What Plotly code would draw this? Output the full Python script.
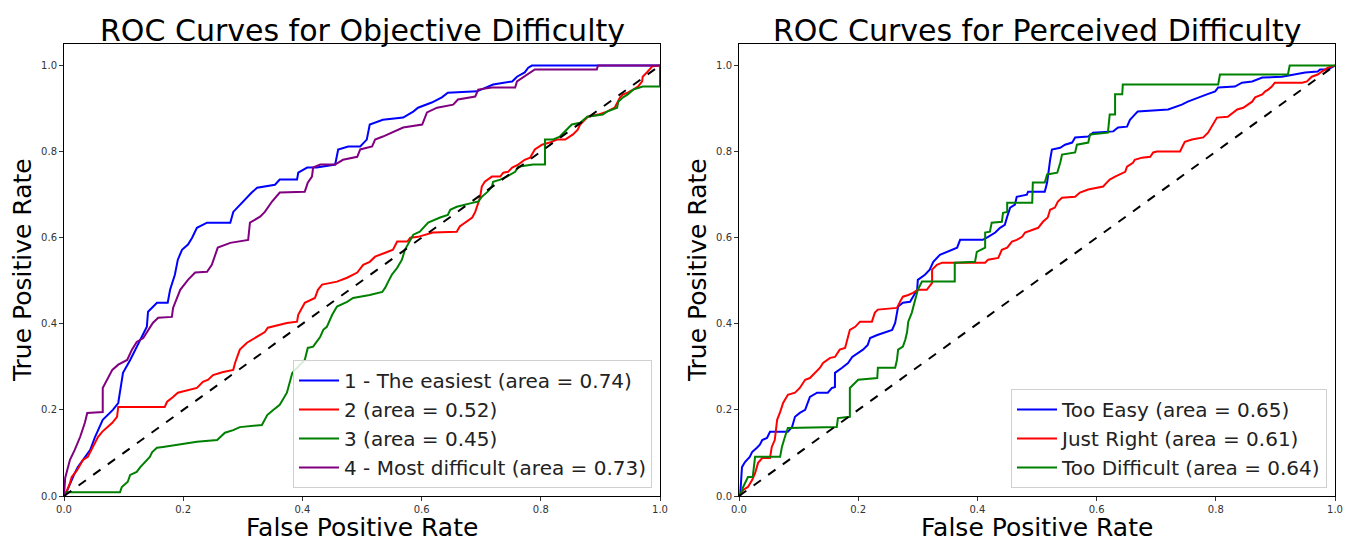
import plotly.graph_objects as go

# ---------------- data ----------------
obj_names = ["1 - The easiest (area = 0.74)", "2 (area = 0.52)", "3 (area = 0.45)", "4 - Most difficult (area = 0.73)"]
obj_colors = ["blue", "red", "green", "purple"]

obj1_fpr = [0, 0.002, 0.018, 0.023, 0.044, 0.052, 0.065, 0.082, 0.091, 0.094, 0.099, 0.111, 0.122, 0.131, 0.139, 0.141, 0.156, 0.174, 0.178, 0.186, 0.191, 0.198, 0.208, 0.215, 0.223, 0.24, 0.279, 0.284, 0.3, 0.315, 0.324, 0.354, 0.362, 0.391, 0.393, 0.408, 0.424, 0.455, 0.46, 0.477, 0.497, 0.508, 0.513, 0.535, 0.569, 0.586, 0.594, 0.617, 0.634, 0.644, 0.693, 0.72, 0.752, 0.76, 0.773, 0.779, 0.785, 1.0]
obj1_tpr = [0, 0.002, 0.053, 0.067, 0.107, 0.137, 0.177, 0.2, 0.216, 0.247, 0.286, 0.316, 0.347, 0.37, 0.393, 0.428, 0.449, 0.449, 0.479, 0.514, 0.549, 0.572, 0.584, 0.6, 0.623, 0.635, 0.635, 0.66, 0.684, 0.705, 0.716, 0.723, 0.735, 0.735, 0.751, 0.763, 0.763, 0.77, 0.805, 0.812, 0.812, 0.828, 0.863, 0.874, 0.879, 0.893, 0.902, 0.914, 0.926, 0.937, 0.94, 0.956, 0.963, 0.974, 0.984, 0.995, 1.0, 1.0]

obj2_fpr = [0, 0.002, 0.01, 0.013, 0.022, 0.032, 0.04, 0.049, 0.057, 0.064, 0.081, 0.089, 0.091, 0.169, 0.173, 0.183, 0.191, 0.223, 0.228, 0.233, 0.242, 0.25, 0.267, 0.284, 0.287, 0.295, 0.307, 0.315, 0.324, 0.337, 0.342, 0.374, 0.391, 0.393, 0.404, 0.421, 0.426, 0.433, 0.458, 0.475, 0.492, 0.502, 0.513, 0.522, 0.539, 0.552, 0.559, 0.576, 0.581, 0.594, 0.619, 0.659, 0.664, 0.676, 0.685, 0.69, 0.698, 0.701, 0.706, 0.718, 0.732, 0.737, 0.745, 0.752, 0.762, 0.773, 0.782, 0.79, 0.802, 0.815, 0.827, 0.841, 0.854, 0.862, 0.866, 0.871, 0.879, 0.896, 0.911, 0.924, 0.933, 0.938, 0.946, 0.955, 0.963, 0.97, 0.971, 0.978, 0.983, 0.987, 1.0]
obj2_tpr = [0, 0.002, 0.03, 0.044, 0.06, 0.084, 0.091, 0.114, 0.137, 0.149, 0.17, 0.184, 0.207, 0.207, 0.219, 0.23, 0.24, 0.251, 0.258, 0.265, 0.27, 0.281, 0.288, 0.293, 0.309, 0.34, 0.356, 0.363, 0.37, 0.381, 0.391, 0.402, 0.405, 0.421, 0.449, 0.46, 0.479, 0.491, 0.498, 0.507, 0.519, 0.537, 0.544, 0.556, 0.565, 0.572, 0.591, 0.591, 0.6, 0.602, 0.612, 0.614, 0.626, 0.637, 0.647, 0.66, 0.693, 0.719, 0.73, 0.742, 0.742, 0.751, 0.753, 0.763, 0.77, 0.781, 0.786, 0.805, 0.816, 0.821, 0.828, 0.828, 0.84, 0.851, 0.863, 0.87, 0.881, 0.886, 0.893, 0.902, 0.926, 0.933, 0.937, 0.944, 0.951, 0.963, 0.974, 0.984, 0.991, 0.998, 1.0]

obj3_fpr = [0, 0.002, 0.002, 0.094, 0.097, 0.107, 0.111, 0.122, 0.128, 0.139, 0.144, 0.148, 0.156, 0.166, 0.191, 0.223, 0.257, 0.27, 0.284, 0.295, 0.332, 0.341, 0.351, 0.362, 0.374, 0.379, 0.383, 0.396, 0.404, 0.409, 0.418, 0.43, 0.435, 0.441, 0.45, 0.458, 0.475, 0.485, 0.497, 0.513, 0.534, 0.539, 0.544, 0.55, 0.559, 0.567, 0.572, 0.581, 0.586, 0.597, 0.611, 0.631, 0.644, 0.648, 0.659, 0.685, 0.695, 0.701, 0.711, 0.718, 0.72, 0.732, 0.743, 0.757, 0.762, 0.787, 0.807, 0.807, 0.82, 0.832, 0.841, 0.846, 0.852, 0.866, 0.878, 0.904, 0.911, 0.928, 0.93, 0.938, 0.946, 0.955, 0.971, 1.0, 1.0]
obj3_tpr = [0, 0.002, 0.009, 0.009, 0.021, 0.033, 0.049, 0.056, 0.067, 0.084, 0.091, 0.102, 0.112, 0.114, 0.119, 0.126, 0.13, 0.147, 0.153, 0.16, 0.165, 0.188, 0.2, 0.212, 0.24, 0.265, 0.286, 0.305, 0.316, 0.344, 0.347, 0.37, 0.386, 0.393, 0.421, 0.44, 0.451, 0.46, 0.463, 0.467, 0.474, 0.484, 0.498, 0.514, 0.53, 0.549, 0.572, 0.595, 0.607, 0.614, 0.635, 0.647, 0.653, 0.665, 0.672, 0.681, 0.684, 0.695, 0.707, 0.719, 0.73, 0.735, 0.742, 0.753, 0.765, 0.77, 0.77, 0.828, 0.828, 0.835, 0.847, 0.856, 0.863, 0.867, 0.881, 0.886, 0.893, 0.902, 0.916, 0.926, 0.933, 0.944, 0.951, 0.951, 1.0]

obj4_fpr = [0, 0.002, 0.01, 0.018, 0.027, 0.035, 0.039, 0.065, 0.065, 0.081, 0.091, 0.106, 0.114, 0.122, 0.133, 0.141, 0.149, 0.158, 0.181, 0.183, 0.195, 0.208, 0.22, 0.24, 0.248, 0.258, 0.279, 0.309, 0.312, 0.329, 0.337, 0.349, 0.362, 0.404, 0.409, 0.416, 0.418, 0.43, 0.455, 0.468, 0.492, 0.497, 0.517, 0.522, 0.535, 0.569, 0.601, 0.609, 0.626, 0.653, 0.661, 0.69, 0.695, 0.718, 0.757, 0.76, 0.777, 0.79, 0.894, 0.896, 1.0]
obj4_tpr = [0, 0.042, 0.084, 0.107, 0.137, 0.17, 0.193, 0.195, 0.251, 0.293, 0.305, 0.316, 0.34, 0.358, 0.367, 0.386, 0.402, 0.414, 0.416, 0.437, 0.479, 0.502, 0.519, 0.521, 0.537, 0.577, 0.588, 0.595, 0.635, 0.649, 0.66, 0.684, 0.705, 0.707, 0.728, 0.742, 0.763, 0.77, 0.77, 0.781, 0.788, 0.805, 0.812, 0.828, 0.835, 0.856, 0.863, 0.891, 0.902, 0.909, 0.921, 0.928, 0.944, 0.949, 0.949, 0.963, 0.979, 0.991, 0.991, 1.0, 1.0]

per_names = ["Too Easy (area = 0.65)", "Just Right (area = 0.61)", "Too Difficult (area = 0.64)"]
per_colors = ["blue", "red", "green"]

easy_fpr = [0, 0.002, 0.005, 0.01, 0.018, 0.022, 0.03, 0.035, 0.039, 0.047, 0.052, 0.082, 0.089, 0.094, 0.102, 0.111, 0.119, 0.131, 0.149, 0.156, 0.161, 0.161, 0.173, 0.183, 0.19, 0.2, 0.208, 0.216, 0.22, 0.232, 0.248, 0.257, 0.262, 0.267, 0.275, 0.287, 0.292, 0.299, 0.3, 0.312, 0.32, 0.326, 0.337, 0.349, 0.366, 0.371, 0.409, 0.418, 0.43, 0.438, 0.446, 0.45, 0.455, 0.463, 0.466, 0.483, 0.485, 0.513, 0.517, 0.522, 0.525, 0.539, 0.547, 0.559, 0.564, 0.586, 0.594, 0.628, 0.636, 0.651, 0.656, 0.664, 0.669, 0.72, 0.735, 0.743, 0.753, 0.77, 0.785, 0.799, 0.804, 0.832, 0.844, 0.861, 0.878, 0.911, 0.95, 0.971, 0.975, 0.988, 0.997, 1.0]
easy_tpr = [0, 0.002, 0.067, 0.079, 0.091, 0.102, 0.112, 0.119, 0.13, 0.135, 0.149, 0.149, 0.16, 0.184, 0.193, 0.2, 0.23, 0.24, 0.24, 0.251, 0.253, 0.286, 0.298, 0.309, 0.323, 0.333, 0.34, 0.351, 0.367, 0.374, 0.381, 0.386, 0.402, 0.44, 0.449, 0.451, 0.463, 0.479, 0.502, 0.514, 0.526, 0.544, 0.56, 0.567, 0.577, 0.595, 0.595, 0.602, 0.612, 0.623, 0.63, 0.649, 0.67, 0.677, 0.695, 0.7, 0.707, 0.707, 0.728, 0.781, 0.805, 0.809, 0.816, 0.821, 0.833, 0.835, 0.844, 0.847, 0.856, 0.858, 0.874, 0.886, 0.893, 0.898, 0.905, 0.909, 0.916, 0.926, 0.933, 0.94, 0.949, 0.951, 0.96, 0.963, 0.972, 0.974, 0.984, 0.986, 0.991, 0.991, 0.998, 1.0]

right_fpr = [0, 0.002, 0.007, 0.015, 0.022, 0.027, 0.032, 0.039, 0.052, 0.055, 0.06, 0.064, 0.069, 0.074, 0.082, 0.094, 0.102, 0.111, 0.119, 0.128, 0.136, 0.141, 0.153, 0.161, 0.169, 0.178, 0.183, 0.186, 0.195, 0.203, 0.223, 0.228, 0.233, 0.265, 0.27, 0.275, 0.284, 0.292, 0.3, 0.315, 0.324, 0.324, 0.332, 0.341, 0.413, 0.418, 0.435, 0.441, 0.45, 0.458, 0.466, 0.475, 0.48, 0.502, 0.51, 0.518, 0.522, 0.53, 0.535, 0.542, 0.564, 0.572, 0.586, 0.601, 0.611, 0.617, 0.622, 0.631, 0.639, 0.648, 0.651, 0.661, 0.664, 0.676, 0.69, 0.695, 0.701, 0.74, 0.743, 0.748, 0.76, 0.779, 0.787, 0.79, 0.799, 0.802, 0.82, 0.829, 0.836, 0.846, 0.854, 0.861, 0.866, 0.878, 0.883, 0.888, 0.894, 0.899, 0.945, 0.953, 0.961, 0.971, 0.978, 0.988, 1.0]
right_tpr = [0, 0.002, 0.014, 0.021, 0.037, 0.053, 0.077, 0.088, 0.088, 0.114, 0.13, 0.177, 0.195, 0.216, 0.235, 0.24, 0.251, 0.27, 0.274, 0.286, 0.298, 0.309, 0.321, 0.323, 0.34, 0.344, 0.367, 0.386, 0.393, 0.405, 0.405, 0.426, 0.433, 0.437, 0.451, 0.463, 0.467, 0.472, 0.479, 0.479, 0.495, 0.526, 0.537, 0.542, 0.542, 0.549, 0.553, 0.572, 0.577, 0.591, 0.595, 0.602, 0.612, 0.623, 0.637, 0.647, 0.665, 0.67, 0.684, 0.693, 0.695, 0.705, 0.712, 0.716, 0.719, 0.728, 0.735, 0.742, 0.747, 0.753, 0.765, 0.774, 0.781, 0.786, 0.788, 0.798, 0.8, 0.8, 0.809, 0.823, 0.828, 0.833, 0.844, 0.851, 0.874, 0.879, 0.881, 0.891, 0.898, 0.902, 0.909, 0.916, 0.926, 0.933, 0.94, 0.944, 0.951, 0.96, 0.96, 0.963, 0.974, 0.979, 0.986, 0.995, 1.0]

diff_fpr = [0, 0.002, 0.007, 0.015, 0.023, 0.027, 0.069, 0.072, 0.077, 0.082, 0.164, 0.166, 0.186, 0.186, 0.2, 0.232, 0.233, 0.262, 0.265, 0.267, 0.275, 0.279, 0.282, 0.284, 0.29, 0.295, 0.3, 0.307, 0.362, 0.362, 0.396, 0.399, 0.413, 0.413, 0.421, 0.424, 0.441, 0.443, 0.45, 0.45, 0.492, 0.493, 0.513, 0.517, 0.534, 0.539, 0.542, 0.564, 0.567, 0.586, 0.589, 0.619, 0.622, 0.631, 0.631, 0.643, 0.644, 0.804, 0.807, 0.921, 0.924, 1.0]
diff_tpr = [0, 0.002, 0.021, 0.044, 0.044, 0.091, 0.091, 0.114, 0.137, 0.158, 0.16, 0.181, 0.184, 0.251, 0.27, 0.274, 0.298, 0.298, 0.316, 0.34, 0.347, 0.363, 0.381, 0.405, 0.426, 0.456, 0.479, 0.498, 0.498, 0.542, 0.544, 0.567, 0.577, 0.612, 0.614, 0.635, 0.637, 0.658, 0.66, 0.681, 0.681, 0.728, 0.728, 0.747, 0.751, 0.774, 0.793, 0.798, 0.816, 0.821, 0.84, 0.844, 0.886, 0.886, 0.933, 0.933, 0.956, 0.956, 0.979, 0.979, 1.0, 1.0]

chance = [0, 1]
ticks = [0.0, 0.2, 0.4, 0.6, 0.8, 1.0]
tick_text = ["0.0", "0.2", "0.4", "0.6", "0.8", "1.0"]

# ---------------- figure ----------------
W, H = 1353, 555
FONT = "DejaVu Sans"
fig = go.Figure()

obj_series = [(obj1_fpr, obj1_tpr), (obj2_fpr, obj2_tpr), (obj3_fpr, obj3_tpr), (obj4_fpr, obj4_tpr)]
for i, ((fx, ty), nm, col) in enumerate(zip(obj_series, obj_names, obj_colors)):
    fig.add_trace(go.Scatter(x=fx, y=ty, mode="lines", name=nm, line=dict(color=col, width=2),
                             xaxis="x", yaxis="y", legend="legend", legendgroup="o%d" % i))
fig.add_trace(go.Scatter(x=chance, y=chance, mode="lines", line=dict(color="black", width=2, dash="dash"),
                         xaxis="x", yaxis="y", showlegend=False))

per_series = [(easy_fpr, easy_tpr), (right_fpr, right_tpr), (diff_fpr, diff_tpr)]
for i, ((fx, ty), nm, col) in enumerate(zip(per_series, per_names, per_colors)):
    fig.add_trace(go.Scatter(x=fx, y=ty, mode="lines", name=nm, line=dict(color=col, width=2),
                             xaxis="x2", yaxis="y2", legend="legend2", legendgroup="p%d" % i))
fig.add_trace(go.Scatter(x=chance, y=chance, mode="lines", line=dict(color="black", width=2, dash="dash"),
                         xaxis="x2", yaxis="y2", showlegend=False))

ybot = (H - 496) / H
ytop = (H - 44) / H
dom1 = [64 / W, 660 / W]
dom2 = [739 / W, 1335 / W]

axis_common = dict(showline=True, linecolor="black", linewidth=1, mirror=True, showgrid=False, zeroline=False,
                   automargin=False,
                   ticks="outside", ticklen=4, tickcolor="#333", tickwidth=1,
                   tickvals=ticks, ticktext=tick_text, tickfont=dict(family=FONT, size=10, color="#333"))

legend_common = dict(font=dict(family=FONT, size=20, color="#222"), bgcolor="rgba(255,255,255,0.85)",
                     bordercolor="#d0d0d0", borderwidth=1, xanchor="right", yanchor="bottom",
                     tracegroupgap=0, itemwidth=40)

fig.update_layout(
    width=W, height=H, margin=dict(l=0, r=0, t=0, b=0, autoexpand=False),
    paper_bgcolor="white", plot_bgcolor="white",
    font=dict(family=FONT),
    xaxis=dict(domain=dom1, range=[0, 1], anchor="y", **axis_common),
    yaxis=dict(domain=[ybot, ytop], range=[0, 1.05], anchor="x", **axis_common),
    xaxis2=dict(domain=dom2, range=[0, 1], anchor="y2", **axis_common),
    yaxis2=dict(domain=[ybot, ytop], range=[0, 1.05], anchor="x2", **axis_common),
    legend=dict(x=652 / W, y=(H - 488) / H, **legend_common),
    legend2=dict(x=1327 / W, y=(H - 488) / H, **legend_common),
)

ann = []
for cx, title in [((dom1[0] + dom1[1]) / 2, "ROC Curves for Objective Difficulty"),
                  ((dom2[0] + dom2[1]) / 2, "ROC Curves for Perceived Difficulty")]:
    ann.append(dict(text=title, x=cx, y=(H - 30) / H, xref="paper", yref="paper", showarrow=False,
                    xanchor="center", yanchor="middle", font=dict(family=FONT, size=30, color="black")))
    ann.append(dict(text="False Positive Rate", x=cx, y=(H - 527) / H, xref="paper", yref="paper", showarrow=False,
                    xanchor="center", yanchor="middle", font=dict(family=FONT, size=25, color="black")))
for lx in [22 / W, 697 / W]:
    ann.append(dict(text="True Positive Rate", x=lx, y=(H - 270) / H, xref="paper", yref="paper", showarrow=False,
                    textangle=-90, xanchor="center", yanchor="middle", font=dict(family=FONT, size=25, color="black")))
fig.update_layout(annotations=ann)

fig.write_html("out.html")
